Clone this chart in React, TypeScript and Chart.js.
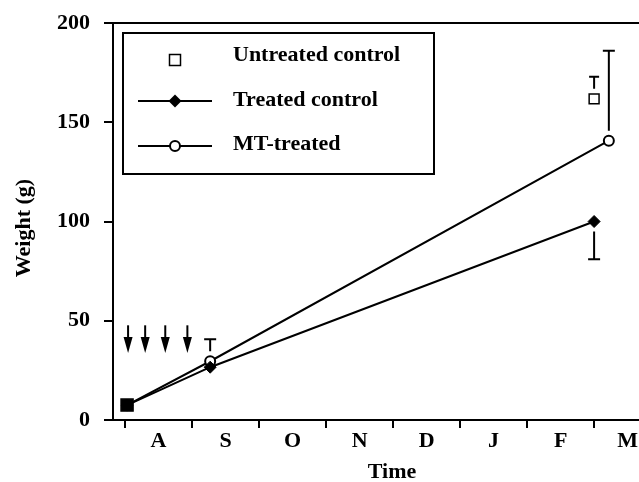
import React, { useEffect, useRef } from 'react';
import { Chart, registerables } from 'chart.js';

Chart.register(...registerables);

// ---- data ----
const monthLabels = ['A', 'S', 'O', 'N', 'D', 'J', 'F', 'M'];
const yTickStep = 50;
const xMin = -0.18;
const xMax = 7.67;
const yMin = 0;
const yMax = 200;

const seriesLabels = ['Untreated control', 'Treated control', 'MT-treated'];

const untreatedX = [0.03, 7.0];
const untreatedY = [7.5, 161.8];
const untreatedErrHigh = [null, 172.9];

const treatedX = [0.03, 1.27, 7.0];
const treatedY = [7.5, 26.6, 100];
const treatedErrLow = [null, null, 81];

const mtX = [0.03, 1.27, 7.22];
const mtY = [7.5, 29.6, 140.7];
const mtErrHigh = [null, 40.7, 186];

// treatment arrows (month position, weight from -> to)
const arrowX = [0.045, 0.3, 0.6, 0.93];
const arrowFrom = 47.7;
const arrowTo = 33.7;

const xTitle = 'Time';
const yTitle = 'Weight (g)';

const FAMILY = '"Liberation Serif", "Times New Roman", serif';
const FONT_SIZE = 22;
const FONT = `bold ${FONT_SIZE}px ${FAMILY}`;

const toPoints = (xs: number[], ys: number[]) => xs.map((x, i) => ({ x, y: ys[i] }));

const errorBarsPlugin = {
  id: 'errorBars',
  afterDatasetsDraw(chart: any) {
    const ctx = chart.ctx;
    const yScale = chart.scales.y;
    const specs = [
      { ds: 0, vals: untreatedErrHigh, cap: 10 },
      { ds: 1, vals: treatedErrLow, cap: 12 },
      { ds: 2, vals: mtErrHigh, cap: 12 },
    ];
    ctx.save();
    ctx.strokeStyle = '#000';
    ctx.lineWidth = 2;
    specs.forEach((s) => {
      const meta = chart.getDatasetMeta(s.ds);
      s.vals.forEach((v: number | null, i: number) => {
        if (v == null) return;
        const el = meta.data[i];
        if (!el) return;
        const yEnd = yScale.getPixelForValue(v);
        const dir = Math.sign(yEnd - el.y);
        const yStart = el.y + dir * 10;
        ctx.beginPath();
        ctx.moveTo(el.x, yStart);
        ctx.lineTo(el.x, yEnd);
        ctx.moveTo(el.x - s.cap / 2, yEnd);
        ctx.lineTo(el.x + s.cap / 2, yEnd);
        ctx.stroke();
      });
    });
    ctx.restore();
  },
};

const arrowsPlugin = {
  id: 'arrows',
  afterDatasetsDraw(chart: any) {
    const ctx = chart.ctx;
    const xs = chart.scales.x;
    const ys = chart.scales.y;
    const yTop = ys.getPixelForValue(arrowFrom);
    const yBot = ys.getPixelForValue(arrowTo);
    const headLen = 16;
    const headW = 9;
    ctx.save();
    ctx.strokeStyle = '#000';
    ctx.fillStyle = '#000';
    ctx.lineWidth = 2;
    arrowX.forEach((v) => {
      const px = xs.getPixelForValue(v);
      ctx.beginPath();
      ctx.moveTo(px, yTop);
      ctx.lineTo(px, yBot - headLen + 2);
      ctx.stroke();
      ctx.beginPath();
      ctx.moveTo(px - headW / 2, yBot - headLen);
      ctx.lineTo(px + headW / 2, yBot - headLen);
      ctx.lineTo(px, yBot);
      ctx.closePath();
      ctx.fill();
    });
    ctx.restore();
  },
};

const legendPlugin = {
  id: 'boxLegend',
  afterDraw(chart: any) {
    const ctx = chart.ctx;
    const ca = chart.chartArea;
    const left = ca.left + 10;
    const top = ca.top + 10;
    const w = 311;
    const h = 141;
    ctx.save();
    ctx.fillStyle = '#fff';
    ctx.fillRect(left, top, w, h);
    ctx.strokeStyle = '#000';
    ctx.lineWidth = 2;
    ctx.strokeRect(left, top, w, h);

    const markerY = [27, 68, 113];
    const textY = [22, 67, 111];
    const mx = left + 52;
    ctx.font = FONT;
    ctx.textAlign = 'left';
    ctx.textBaseline = 'middle';
    chart.data.datasets.forEach((ds: any, i: number) => {
      const cy = top + markerY[i];
      if (ds.showLine !== false) {
        ctx.beginPath();
        ctx.lineWidth = 2;
        ctx.moveTo(left + 15, cy);
        ctx.lineTo(left + 89, cy);
        ctx.stroke();
      }
      if (ds.pointStyle === 'rect') {
        ctx.fillStyle = '#fff';
        ctx.lineWidth = 1.5;
        ctx.fillRect(mx - 5.5, cy - 5.5, 11, 11);
        ctx.strokeRect(mx - 5.5, cy - 5.5, 11, 11);
      } else if (ds.pointStyle === 'rectRot') {
        ctx.fillStyle = '#000';
        ctx.beginPath();
        ctx.moveTo(mx, cy - 6.5);
        ctx.lineTo(mx + 6.5, cy);
        ctx.lineTo(mx, cy + 6.5);
        ctx.lineTo(mx - 6.5, cy);
        ctx.closePath();
        ctx.fill();
      } else {
        ctx.fillStyle = '#fff';
        ctx.lineWidth = 2;
        ctx.beginPath();
        ctx.arc(mx, cy, 5, 0, Math.PI * 2);
        ctx.fill();
        ctx.stroke();
      }
      ctx.fillStyle = '#000';
      ctx.fillText(ds.label, left + 110, top + textY[i]);
    });
    ctx.restore();
  },
};

const titlesPlugin = {
  id: 'axisTitles',
  afterDraw(chart: any) {
    const ctx = chart.ctx;
    ctx.save();
    ctx.fillStyle = '#000';
    ctx.font = FONT;
    ctx.textAlign = 'center';
    ctx.textBaseline = 'middle';
    ctx.fillText(xTitle, 392, 472);
    ctx.translate(24, 228);
    ctx.rotate(-Math.PI / 2);
    ctx.fillText(yTitle, 0, 0);
    ctx.restore();
  },
};

export default function App() {
  const ref = useRef<HTMLCanvasElement>(null);

  useEffect(() => {
    document.body.style.margin = '0';
    const canvas = ref.current;
    if (!canvas) return;
    const font = { family: FAMILY, size: FONT_SIZE, weight: 'bold' as const };
    const chart = new Chart(canvas, {
      type: 'line',
      data: {
        datasets: [
          {
            label: seriesLabels[0],
            data: toPoints(untreatedX, untreatedY),
            showLine: false,
            pointStyle: 'rect',
            pointRadius: [8.5, 7],
            pointBorderWidth: 1.5,
            pointBackgroundColor: ['#000', '#fff'],
            pointBorderColor: '#000',
            borderColor: '#000',
          },
          {
            label: seriesLabels[1],
            data: toPoints(treatedX, treatedY),
            borderColor: '#000',
            borderWidth: 2,
            pointStyle: 'rectRot',
            pointRadius: 6,
            pointBorderWidth: 1,
            pointBackgroundColor: '#000',
            pointBorderColor: '#000',
          },
          {
            label: seriesLabels[2],
            data: toPoints(mtX, mtY),
            borderColor: '#000',
            borderWidth: 2,
            pointStyle: 'circle',
            pointRadius: 5,
            pointBorderWidth: 2,
            pointBackgroundColor: '#fff',
            pointBorderColor: '#000',
          },
        ],
      },
      options: {
        animation: false,
        responsive: false,
        devicePixelRatio: 1,
        events: [],
        layout: { autoPadding: false, padding: { top: 23, right: 0, bottom: 0, left: 0 } },
        plugins: { legend: { display: false }, tooltip: { enabled: false } },
        scales: {
          x: {
            type: 'linear',
            position: 'bottom',
            min: xMin,
            max: xMax,
            afterBuildTicks: (scale: any) => {
              const t: any[] = [];
              monthLabels.forEach((_, i) => {
                t.push({ value: i });
                t.push({ value: i + 0.5 });
              });
              scale.ticks = t;
            },
            afterFit: (scale: any) => {
              scale.height = 62;
              scale.paddingLeft = 0;
              scale.paddingRight = 0;
              scale.paddingTop = 0;
              scale.paddingBottom = 0;
            },
            ticks: {
              autoSkip: false,
              maxRotation: 0,
              padding: 0,
              color: '#000',
              font,
              callback: (v: any) => {
                const n = Number(v);
                if (Math.abs(n - Math.floor(n) - 0.5) < 1e-6) return monthLabels[Math.floor(n)] ?? '';
                return '';
              },
            },
            grid: {
              drawOnChartArea: false,
              drawTicks: true,
              tickLength: 8,
              tickWidth: 2,
              lineWidth: 2,
              tickColor: (c: any) =>
                c.tick && Number.isInteger(c.tick.value) ? '#000' : 'rgba(0,0,0,0)',
            },
            border: { display: true, color: '#000', width: 2 },
          },
          x2: {
            type: 'linear',
            position: 'top',
            min: xMin,
            max: xMax,
            ticks: { display: false },
            grid: { display: false, drawTicks: false },
            border: { display: true, color: '#000', width: 2 },
            afterFit: (scale: any) => {
              scale.height = 0;
              scale.paddingLeft = 0;
              scale.paddingRight = 0;
            },
          },
          y: {
            type: 'linear',
            min: yMin,
            max: yMax,
            afterFit: (scale: any) => {
              scale.width = 113;
              scale.paddingTop = 0;
              scale.paddingBottom = 0;
            },
            ticks: { stepSize: yTickStep, padding: 14, color: '#000', font },
            grid: {
              drawOnChartArea: false,
              drawTicks: true,
              tickLength: 9,
              color: '#000',
              tickColor: '#000',
              lineWidth: 2,
              tickWidth: 2,
            },
            border: { display: true, color: '#000', width: 2 },
          },
        },
      } as any,
      plugins: [arrowsPlugin, errorBarsPlugin, legendPlugin, titlesPlugin],
    });
    return () => chart.destroy();
  }, []);

  return (
    <div style={{ width: 639, height: 482 }}>
      <canvas ref={ref} width={639} height={482} style={{ display: 'block' }} />
    </div>
  );
}
